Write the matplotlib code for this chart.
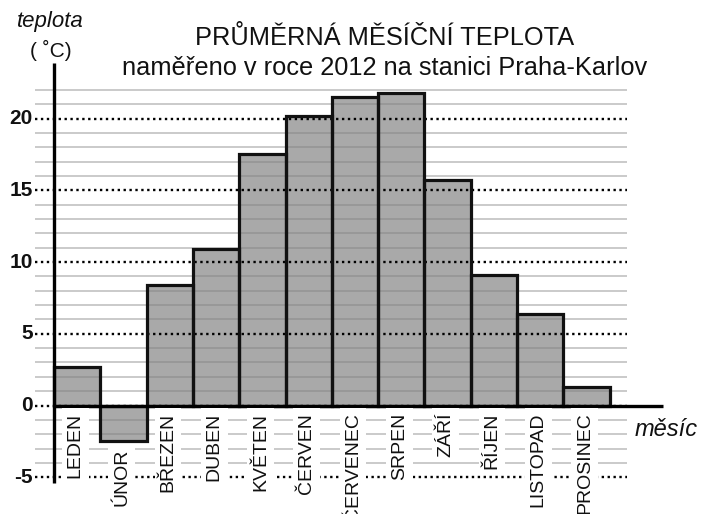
import matplotlib
matplotlib.use("Agg")
import matplotlib.pyplot as plt

plt.rcParams['font.family'] = ['Liberation Sans', 'DejaVu Sans']

# ---- data ----
months = ["LEDEN", "ÚNOR", "BŘEZEN", "DUBEN", "KVĚTEN", "ČERVEN",
          "ČERVENEC", "SRPEN", "ZÁŘÍ", "ŘÍJEN", "LISTOPAD", "PROSINEC"]
temps = [2.7, -2.5, 8.4, 10.9, 17.5, 20.2, 21.5, 21.8, 15.7, 9.1, 6.4, 1.3]
major_ticks = [-5, 0, 5, 10, 15, 20]
minor_ticks = [v for v in range(-4, 23) if v % 5 != 0]
title1 = "PRŮMĚRNÁ MĚSÍČNÍ TEPLOTA"
title2 = "naměřeno v roce 2012 na stanici Praha-Karlov"

# ---- layout (pixel geometry of the figure) ----
W, H = 702, 514
x0_px, bw_px = 54.0, 46.3
y0_px, s_px = 405.5, 14.35

fig = plt.figure(figsize=(W / 100, H / 100), dpi=100)
ax = fig.add_axes([0, 0, 1, 1])
ax.set_xlim(-x0_px / bw_px, (W - x0_px) / bw_px)
ax.set_ylim(-(H - y0_px) / s_px, y0_px / s_px)
ax.axis('off')

def px_x(p):
    return (p - x0_px) / bw_px

def px_y(p):
    return (y0_px - p) / s_px

grid_l, grid_r = px_x(35), px_x(627)

xs = [i + 0.5 for i in range(len(months))]
# bar fill
ax.bar(xs, temps, width=1.0, color='#a9a9a9', edgecolor='none', zorder=1)
# grid lines
for v in minor_ticks:
    ax.plot([grid_l, grid_r], [v, v], color='#808080', alpha=0.45, lw=1.3,
            solid_capstyle='butt', zorder=2)
for v in major_ticks:
    ax.plot([grid_l, grid_r], [v, v], color='black', lw=1.7,
            linestyle=(0, (1, 1.5)), zorder=2)
# bar outlines
ax.bar(xs, temps, width=1.0, fill=False, edgecolor='#111111', linewidth=2.3, zorder=4)

# axes lines
ax.plot([0, 0], [px_y(483), px_y(63)], color='black', lw=2.4, zorder=5,
        solid_capstyle='butt')
ax.plot([0, px_x(663)], [0, 0], color='black', lw=2.4, zorder=5,
        solid_capstyle='butt')

# y tick labels
for v in major_ticks:
    ax.text(px_x(33), v, f"{v}", ha='right', va='center', fontsize=15,
            fontweight='bold', color='#111111', zorder=6)

# month labels
for x, m, t in zip(xs, months, temps):
    top = min(0, t) - 0.5
    ax.text(x - 0.04, top, m, rotation=90, ha='center', va='top', fontsize=14,
            color='#111111', zorder=6, clip_on=False,
            bbox=dict(boxstyle='square,pad=0.25', fc='white', ec='none'))

# titles
ax.text(px_x(385), px_y(38), title1, ha='center', va='center', fontsize=18.3,
        color='#111111', zorder=6)
ax.text(px_x(385), px_y(68), title2, ha='center', va='center', fontsize=18.3,
        color='#111111', zorder=6,
        bbox=dict(boxstyle='square,pad=0.1', fc='white', ec='none'))

# axis labels
ax.text(px_x(50), px_y(22), "teplota", ha='center', va='center', fontsize=16,
        style='italic', color='#111111')
ax.text(px_x(51), px_y(50), "( ˚C)", ha='center', va='center', fontsize=15,
        color='#111111')
ax.text(px_x(635), px_y(430), "měsíc", ha='left', va='center', fontsize=17,
        style='italic', color='#111111')

fig.savefig("out.png", dpi=100)
